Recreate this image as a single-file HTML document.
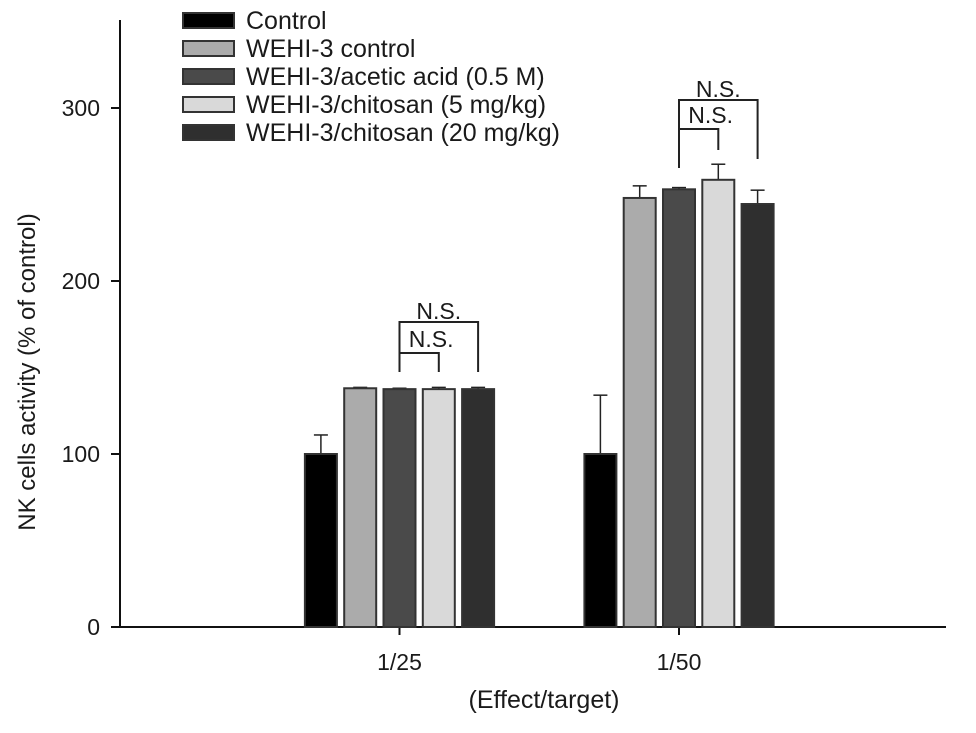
<!DOCTYPE html>
<html><head><meta charset="utf-8"><style>
body{margin:0;background:#fff}
svg text{font-family:"Liberation Sans",Arial,sans-serif;fill:#1a1a1a}
</style></head><body>
<svg id="chart" width="976" height="728" viewBox="0 0 976 728"></svg>
<script>
const categories = ["1/25", "1/50"];
const seriesNames = ["Control", "WEHI-3 control", "WEHI-3/acetic acid (0.5 M)", "WEHI-3/chitosan (5 mg/kg)", "WEHI-3/chitosan (20 mg/kg)"];
const seriesColors = ["#000000", "#ababab", "#4a4a4a", "#d9d9d9", "#2f2f2f"];
const values = [[100, 100], [138, 248], [137.5, 253], [137.5, 258.5], [137.5, 244.5]];
const errors = [[11, 34], [0.5, 7], [0.5, 1], [1, 9], [1, 8]];
const yTicks = [0, 100, 200, 300];

const NS = "http://www.w3.org/2000/svg";
const svg = document.getElementById("chart");
function el(tag, attrs, parent) {
  const e = document.createElementNS(NS, tag);
  for (const k in attrs) e.setAttribute(k, attrs[k]);
  (parent || svg).appendChild(e);
  return e;
}
const y0 = 627, pxPer = 1.73;
const y = v => y0 - v * pxPer;
const groupCenters = [399.5, 679];
const pitch = 39.3, bw = 32;
const barX = (g, s) => groupCenters[g] + (s - 2) * pitch - bw / 2;
const barC = (g, s) => groupCenters[g] + (s - 2) * pitch;

// axes
let a = el("line", {x1:120, y1:20, x2:120, y2:627, stroke:"#111", "stroke-width":2});


a = el("line", {x1:119, y1:627, x2:946, y2:627, stroke:"#111", "stroke-width":2});


yTicks.forEach(t => {
  const tk = el("line", {x1:111, y1:y(t), x2:120, y2:y(t), stroke:"#111", "stroke-width":2});
  
  
  const tx = el("text", {x:100, y:y(t) + 8, "text-anchor":"end", "font-size":23});
  tx.textContent = t;
  
  
});
categories.forEach((c, g) => {
  const tk = el("line", {x1:groupCenters[g], y1:627, x2:groupCenters[g], y2:635, stroke:"#111", "stroke-width":2});
  
  
  const tx = el("text", {x:groupCenters[g], y:670, "text-anchor":"middle", "font-size":23});
  tx.textContent = c;
  
  
});
let t = el("text", {x:544, y:708, "text-anchor":"middle", "font-size":25});
t.textContent = "(Effect/target)";


t = el("text", {x:0, y:0, transform:"translate(35,372) rotate(-90)", "text-anchor":"middle", "font-size":24});
t.textContent = "NK cells activity (% of control)";



// bars
values.forEach((ser, s) => {
  ser.forEach((v, g) => {
    const cx = barC(g, s), top = y(v + errors[s][g]);
    const e1 = el("line", {x1:cx, y1:y(v), x2:cx, y2:top, stroke:"#222", "stroke-width":1.5});
    
    
    const e2 = el("line", {x1:cx - 7, y1:top, x2:cx + 7, y2:top, stroke:"#222", "stroke-width":1.5});
    
    
    const r = el("rect", {x:barX(g, s), y:y(v), width:bw, height:y0 - y(v), fill:seriesColors[s], stroke:"#333", "stroke-width":2});
    
    
  });
});

// significance brackets
function bracket(x1, x2, yb, yl, yr, label, dx, dy) {
  const p = el("path", {d:`M${x1} ${yl} V${yb} H${x2} V${yr}`, fill:"none", stroke:"#222", "stroke-width":2});
  
  
  const tx = el("text", {x:(x1 + x2) / 2 + dx, y:yb - dy, "text-anchor":"middle", "font-size":23});
  tx.textContent = label;
  
  
}
bracket(barC(0,2), barC(0,4), 322, 372, 372, "N.S.", 0, 3);
bracket(barC(0,2), barC(0,3), 353, 372, 372, "N.S.", 12, 6);
bracket(barC(1,2), barC(1,4), 100, 168, 159, "N.S.", 0, 3);
bracket(barC(1,2), barC(1,3), 129, 168, 150, "N.S.", 12, 6);

// legend
seriesNames.forEach((n, i) => {
  const yy = 13 + i * 28;
  const r = el("rect", {x:183, y:yy, width:51, height:15, fill:seriesColors[i], stroke:"#333", "stroke-width":2});
  
  
  const tx = el("text", {x:246, y:yy + 16, "font-size":25});
  tx.textContent = n;
  
  
});
</script>
</body></html>
